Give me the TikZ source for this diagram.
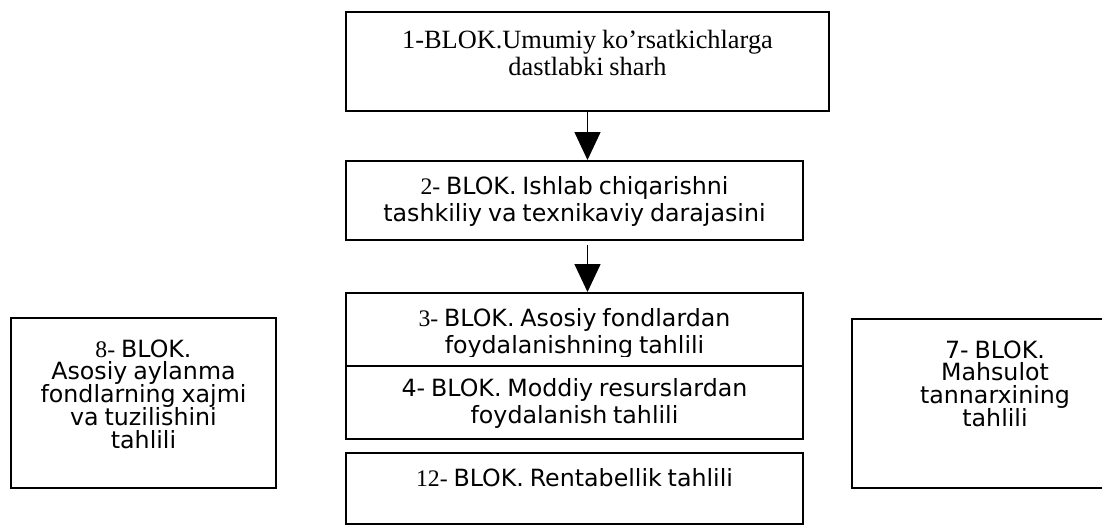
\documentclass[tikz,border=0pt]{standalone}
\usepackage{fontspec}
\setmainfont{DejaVu Sans}
\newfontfamily\romfont{Liberation Serif}
\usetikzlibrary{arrows.meta}

\begin{document}
\begin{tikzpicture}[
		blok/.style={draw, line width=1.1pt, inner sep=0pt},
		txt/.style={anchor=base, inner sep=0pt, align=center, text width=9cm,
			execute at begin node={\fontsize{13.5}{15.9}\selectfont\lineskiplimit=-\maxdimen}},
		sidetxt/.style={anchor=base, inner sep=0pt, align=center, text width=5cm,
			execute at begin node={\fontsize{13.5}{13}\selectfont\lineskiplimit=-\maxdimen}},
		toptxt/.style={anchor=base, inner sep=0pt, align=center, text width=9cm,
			execute at begin node={\romfont\fontsize{15}{15.7}\selectfont\lineskiplimit=-\maxdimen}},
		arr/.style={-{Triangle[length=0.56cm, width=0.52cm]}, line width=0.8pt}
	]
		\useasboundingbox (0, 0) rectangle (22.04, -10.52);

		% main column
		\node[blok, minimum width=9.66cm, minimum height=1.98cm] (b1) at (11.75, -1.23) {};
		\node[blok, minimum width=9.14cm, minimum height=1.58cm] (b2) at (11.49, -4.01) {};
		\node[blok, minimum width=9.14cm, minimum height=1.46cm] (b3) at (11.49, -6.59) {};
		\node[blok, minimum width=9.14cm, minimum height=1.46cm] (b4) at (11.49, -8.05) {};
		\node[blok, minimum width=9.14cm, minimum height=1.42cm] (b12) at (11.49, -9.77) {};

		% side boxes
		\node[blok, minimum width=5.30cm, minimum height=3.40cm] (b8) at (2.87, -8.06) {};
		\node[blok, minimum width=5.72cm, minimum height=3.38cm] (b7) at (19.90, -8.07) {};

		\node[toptxt] (t1) at ([yshift=-0.74cm]b1.north)
			{1-BLOK.Umumiy ko’rsatkichlarga\\dastlabki sharh};
		\node[txt] (t2) at ([yshift=-0.68cm]b2.north)
			{{\romfont 2-} BLOK. Ishlab chiqarishni\\tashkiliy va texnikaviy darajasini};

		\begin{scope}
			\clip (b3.north west) rectangle ([yshift=0.21cm]b3.south east);
			\node[txt] (t3) at ([yshift=-0.68cm]b3.north)
				{{\romfont 3-} BLOK. Asosiy fondlardan\\foydalanishning tahlili};
		\end{scope}
		\begin{scope}
			\clip (b4.north west) rectangle ([yshift=0.22cm]b4.south east);
			\node[txt] (t4) at ([yshift=-0.62cm]b4.north)
				{4- BLOK. Moddiy resurslardan\\foydalanish tahlili};
		\end{scope}

		\node[txt] (t12) at ([yshift=-0.68cm]b12.north)
			{{\romfont 12-} BLOK. Rentabellik tahlili};

		\node[sidetxt] (t8) at ([yshift=-0.80cm]b8.north)
			{{\romfont 8-} BLOK.\\Asosiy aylanma\\fondlarning xajmi\\va tuzilishini\\tahlili};
		\node[sidetxt] (t7) at ([yshift=-0.80cm]b7.north)
			{7- BLOK.\\Mahsulot\\tannarxining\\tahlili};

		% arrows
		\coordinate (a2) at (b1.south |- b2.south);
		\draw[arr]	(b1.south) -- (b1.south |- b2.north);
		\draw[arr]	([yshift=-0.08cm]a2) -- (b1.south |- b3.north);
	\end{tikzpicture}
\end{document}
